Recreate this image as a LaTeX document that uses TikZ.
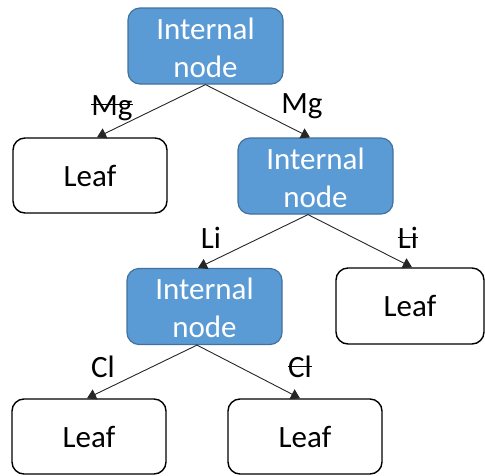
\documentclass[tikz,border=0pt]{standalone}
\usepackage{fontspec}
\setmainfont{Carlito}
\usetikzlibrary{arrows.meta}
\definecolor{innerfill}{HTML}{5B9BD5}
\definecolor{innerdraw}{HTML}{41719C}
% struck-through text for the negated branch labels
\newsavebox\strkbox
\newcommand\struck[1]{\sbox\strkbox{#1}\rlap{\usebox\strkbox}\rule[0.31em]{\wd\strkbox}{0.06em}}
% two-line caption of an internal node, with a taller first line
\newcommand\twolines[2]{\rule{0pt}{25pt}#1\\#2}

\begin{document}
\begin{tikzpicture}[x=1pt,y=-1pt,
  font=\fontsize{31}{38}\selectfont,
  internal/.style={rectangle, rounded corners=12pt, fill=innerfill, draw=innerdraw,
    line width=1.2pt, text=white, align=center, minimum width=155pt,
    minimum height=76pt, inner sep=0pt},
  leaf/.style={rectangle, rounded corners=12pt, fill=white, draw=black,
    line width=1.4pt, minimum width=154pt, minimum height=75pt, inner sep=0pt},
  edge/.style={draw=black!85, line width=0.9pt, -{Triangle[width=11pt,length=9pt]}},
  lbl/.style={anchor=base, inner sep=0pt}]
  \useasboundingbox (0,0) rectangle (485,475);

  % nodes
  \node[internal] (root) at (205.5,46) {\twolines{Internal}{node}};
  \node[leaf] (leafA) at (90,175.5) {Leaf};
  \node[internal] (mid) at (315.5,176) {\twolines{Internal}{node}};
  \node[internal] (low) at (204.5,306.5) {\twolines{Internal}{node}};
  \node[leaf, minimum width=148pt, minimum height=76pt] (leafB) at (410,306) {Leaf};
  \node[leaf] (leafC) at (89,436.5) {Leaf};
  \node[leaf] (leafD) at (305,436.5) {Leaf};

  % branches
  \draw[edge] (root.south) -- ([xshift=7pt]leafA.north);
  \draw[edge] (root.south) -- ([xshift=-5.5pt]mid.north);
  \draw[edge] ([xshift=-7.5pt]mid.south) -- ([xshift=-6.5pt]low.north);
  \draw[edge] ([xshift=-7.5pt]mid.south) -- ([xshift=2pt]leafB.north);
  \draw[edge] ([xshift=-7.5pt]low.south) -- ([xshift=-2pt]leafC.north);
  \draw[edge] ([xshift=-7.5pt]low.south) -- ([xshift=-5pt]leafD.north);

  % branch labels
  \node[lbl] (mgNo) at (112,115) {\struck{Mg}};
  \node[lbl] (mgYes) at (302,113) {Mg};
  \node[lbl] (liYes) at (211,248) {Li};
  \node[lbl] (liNo) at (408,248) {\struck{Li}};
  \node[lbl] (clYes) at (103,377) {Cl};
  \node[lbl] (clNo) at (300,377) {\struck{Cl}};
\end{tikzpicture}
\end{document}
